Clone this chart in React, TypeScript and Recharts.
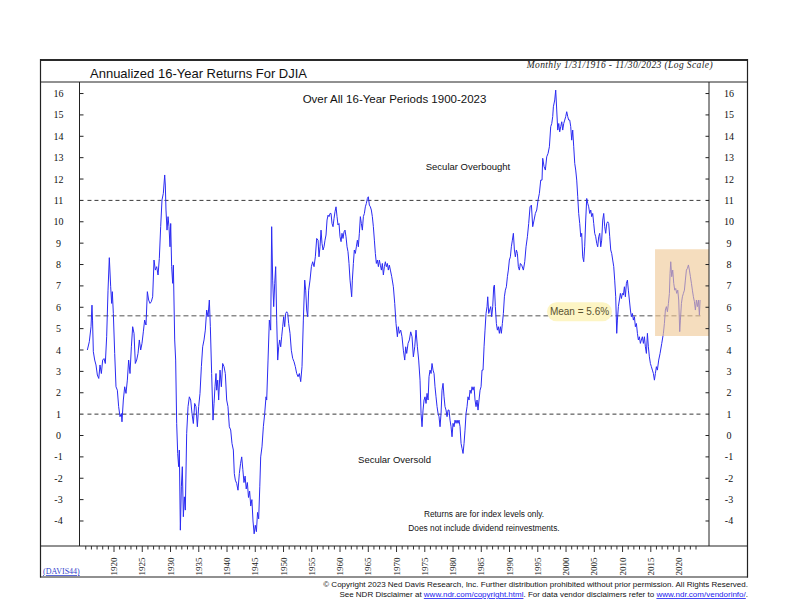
import React from 'react';
import { LineChart, Line, XAxis, YAxis, ReferenceLine, ReferenceArea } from 'recharts';

// ---------- data ----------
// [year, annualized 16-year return %]
const returns1915to1945: [number, number][] = [
  [1915.28,4.0],[1915.63,4.39],[1915.93,5.09],[1916.1,6.1],[1916.2,5.4],[1916.34,3.92],[1916.58,3.53],[1916.81,3.3],[1917.05,2.83],[1917.3,2.67],[1917.52,3.3],[1917.76,2.9],[1917.99,3.53],[1918.23,3.6],[1918.46,3.37],[1918.7,4.62],[1918.94,6.8],[1919.17,8.32],[1919.41,6.96],[1919.58,6.18],[1919.7,6.73],[1919.88,5.71],
  [1920.12,3.84],[1920.35,2.28],[1920.59,2.12],[1920.82,1.35],[1921.06,0.88],[1921.3,1.03],[1921.41,0.64],[1921.65,1.66],[1921.89,2.28],[1922.12,1.97],[1922.36,2.59],[1922.59,3.53],[1922.83,2.9],[1923.07,4.15],[1923.3,5.09],[1923.54,4.78],[1923.77,3.37],[1924.01,3.53],[1924.25,3.84],[1924.48,4.47],[1924.72,4.0],[1924.95,4.31],
  [1925.19,4.85],[1925.42,5.4],[1925.66,5.17],[1925.9,6.73],[1926.13,6.34],[1926.37,6.18],[1926.6,6.26],[1926.84,6.49],[1927.08,8.21],[1927.31,7.74],[1927.55,7.9],[1927.79,7.51],[1928.02,8.29],[1928.26,9.77],[1928.49,11.02],[1928.73,11.33],[1928.97,12.19],[1929.08,11.72],[1929.2,10.55],[1929.38,9.61],[1929.56,10.24],[1929.73,9.77],[1929.91,8.83],
  [1930.03,9.92],[1930.2,7.9],[1930.38,7.12],[1930.5,7.97],[1930.74,4.47],[1930.91,3.53],[1931.09,0.56],[1931.27,-0.84],[1931.44,-1.46],[1931.56,-0.68],[1931.74,-4.43],[1931.92,-2.4],[1932.09,-1.46],[1932.27,-3.8],[1932.45,-2.87],[1932.62,-3.49],[1932.86,0.1],[1933.1,1.35],[1933.33,1.81],[1933.57,1.66],[1933.8,1.03],[1934.04,0.56],[1934.28,1.5],[1934.51,1.35],[1934.75,0.41],[1934.98,1.35],
  [1935.22,1.97],[1935.46,3.22],[1935.69,4.15],[1935.93,4.47],[1936.16,4.93],[1936.4,5.87],[1936.64,5.56],[1936.87,6.34],[1937.05,5.09],[1937.28,2.9],[1937.52,0.72],[1937.7,1.5],[1937.87,2.28],[1938.05,2.9],[1938.17,2.12],[1938.35,2.59],[1938.52,1.66],[1938.76,3.06],[1939.0,2.28],[1939.23,3.37],[1939.47,3.22],[1939.7,2.9],[1939.94,1.66],
  [1940.17,1.35],[1940.41,0.41],[1940.65,0.26],[1940.88,-0.37],[1941.12,-0.68],[1941.29,-1.78],[1941.47,-2.09],[1941.71,-2.24],[1941.94,-2.56],[1942.18,-1.78],[1942.4,-1.3],[1942.6,-1.0],[1942.8,-1.6],[1943.0,-2.2],[1943.2,-1.9],[1943.4,-2.5],[1943.6,-2.2],[1943.8,-2.9],[1944.0,-2.6],[1944.2,-3.3],[1944.4,-3.0],[1944.6,-4.0],[1944.8,-4.6],[1945.0,-4.2],[1945.2,-4.5],[1945.4,-3.6],[1945.6,-3.9],[1945.8,-2.4],
];
const returns1946to1991: [number, number][] = [
  [1945.96,-1.0],[1946.19,-0.53],[1946.43,0.41],[1946.67,1.03],[1946.9,1.81],[1947.02,1.66],[1947.26,3.53],[1947.49,5.4],[1947.73,4.93],[1947.9,9.77],[1948.08,7.27],[1948.26,6.03],[1948.44,7.12],[1948.61,7.9],[1948.79,5.4],[1948.97,3.53],[1949.14,4.15],[1949.32,4.47],[1949.5,4.15],[1949.67,4.62],[1949.85,5.09],
  [1950.03,5.56],[1950.2,5.09],[1950.38,5.71],[1950.56,5.79],[1950.74,5.71],[1950.91,5.24],[1951.15,4.78],[1951.38,3.99],[1951.62,3.61],[1951.86,3.45],[1952.09,3.22],[1952.33,2.9],[1952.57,2.75],[1952.8,2.9],[1953.04,2.52],[1953.27,3.22],[1953.51,5.4],[1953.75,7.27],[1953.92,6.8],[1954.1,5.87],[1954.28,5.56],[1954.45,6.8],[1954.69,7.27],[1954.93,7.9],
  [1955.16,8.13],[1955.4,7.9],[1955.63,8.36],[1955.87,9.22],[1956.11,9.14],[1956.28,8.36],[1956.46,8.83],[1956.64,9.61],[1956.81,8.99],[1956.99,8.68],[1957.17,8.83],[1957.34,9.14],[1957.52,9.38],[1957.7,10.08],[1957.88,10.31],[1958.05,10.24],[1958.23,10.39],[1958.41,10.39],[1958.58,9.92],[1958.76,9.77],[1958.94,10.16],[1959.11,10.47],[1959.29,10.7],[1959.47,10.24],[1959.64,9.85],[1959.82,9.92],
  [1960.0,9.3],[1960.18,9.07],[1960.35,9.46],[1960.53,9.22],[1960.71,9.53],[1960.88,9.61],[1961.06,9.3],[1961.24,8.83],[1961.41,8.6],[1961.59,8.05],[1961.77,7.27],[1961.95,6.8],[1962.06,6.49],[1962.18,7.27],[1962.36,8.05],[1962.53,8.68],[1962.71,8.52],[1962.89,8.83],[1963.07,9.14],[1963.24,8.83],[1963.42,9.46],[1963.6,10.24],[1963.77,9.92],[1963.95,9.61],[1964.13,10.24],[1964.31,10.39],[1964.48,10.7],[1964.66,10.86],[1964.84,11.09],
  [1965.01,11.17],[1965.19,10.78],[1965.37,10.7],[1965.54,10.55],[1965.72,10.24],[1965.9,9.77],[1966.08,9.14],[1966.25,8.52],[1966.43,8.05],[1966.61,8.21],[1966.79,7.9],[1966.96,8.21],[1967.14,7.97],[1967.32,7.74],[1967.49,8.05],[1967.67,7.51],[1967.85,7.9],[1968.02,8.13],[1968.2,7.9],[1968.38,8.05],[1968.55,7.74],[1968.73,7.97],[1968.91,7.74],[1969.15,7.43],[1969.44,6.96],[1969.68,6.18],[1969.91,5.24],
  [1970.15,4.62],[1970.32,5.09],[1970.5,4.78],[1970.74,4.93],[1970.97,4.62],[1971.21,3.99],[1971.45,3.53],[1971.62,4.15],[1971.8,3.84],[1972.04,4.31],[1972.27,4.47],[1972.51,4.85],[1972.74,4.62],[1972.98,3.68],[1973.22,4.15],[1973.45,4.93],[1973.69,4.15],[1973.92,3.53],[1974.16,2.59],[1974.34,1.03],[1974.51,0.41],[1974.69,1.19],[1974.87,1.66],
  [1975.04,1.81],[1975.22,1.5],[1975.4,1.97],[1975.58,1.66],[1975.75,2.75],[1975.93,3.06],[1976.11,2.9],[1976.28,3.37],[1976.46,3.06],[1976.64,2.9],[1976.81,2.28],[1976.99,1.81],[1977.17,1.35],[1977.35,1.03],[1977.52,0.88],[1977.7,0.41],[1977.88,1.03],[1978.05,2.12],[1978.23,2.44],[1978.41,1.81],[1978.58,1.35],[1978.76,1.19],[1978.94,0.88],[1979.12,1.19],[1979.29,1.19],[1979.47,0.72],[1979.65,0.41],[1979.82,-0.06],
  [1980.0,0.57],[1980.18,0.41],[1980.35,0.72],[1980.53,0.57],[1980.71,0.72],[1980.88,0.57],[1981.06,0.72],[1981.24,0.41],[1981.42,-0.37],[1981.59,-0.6],[1981.77,-0.84],[1981.95,-0.37],[1982.12,0.25],[1982.3,1.03],[1982.48,1.35],[1982.65,1.81],[1982.83,1.66],[1983.01,2.12],[1983.19,1.97],[1983.36,2.28],[1983.54,2.12],[1983.72,2.28],[1983.89,1.66],[1984.07,1.35],[1984.25,1.66],[1984.42,1.19],[1984.6,1.66],[1984.78,2.12],[1984.96,2.28],
  [1985.13,3.06],[1985.31,3.06],[1985.49,4.15],[1985.66,4.93],[1985.84,5.71],[1986.02,6.03],[1986.14,6.49],[1986.31,5.71],[1986.49,5.87],[1986.67,6.03],[1986.84,5.56],[1987.02,6.03],[1987.2,6.96],[1987.32,7.04],[1987.49,6.03],[1987.67,5.24],[1987.85,4.93],[1988.02,5.09],[1988.2,4.78],[1988.38,5.09],[1988.55,4.78],[1988.73,5.24],[1988.91,5.71],[1989.09,6.49],[1989.26,6.8],[1989.44,6.96],[1989.62,7.43],[1989.79,7.74],[1989.97,8.21],
  [1990.15,8.36],[1990.32,8.83],[1990.5,9.14],[1990.68,9.46],[1990.86,8.68],[1991.03,8.36],[1991.21,8.68],[1991.39,8.52],[1991.56,7.9],[1991.74,7.74],[1991.92,8.05],
];
const returns1992to2023: [number, number][] = [
  [1992.15,7.97],[1992.45,7.74],[1992.69,8.13],[1992.92,8.83],[1993.16,9.3],[1993.39,9.92],[1993.63,10.7],[1993.87,10.78],[1994.1,9.77],[1994.34,10.08],[1994.57,10.39],[1994.81,10.55],[1995.05,11.02],[1995.28,11.33],[1995.52,11.95],[1995.75,11.95],[1995.87,12.97],[1996.11,12.58],[1996.34,12.42],[1996.58,13.04],[1996.82,13.2],[1997.05,13.51],[1997.29,14.45],[1997.47,14.6],[1997.64,14.92],[1997.76,15.38],[1998.0,15.7],[1998.17,16.16],[1998.35,15.23],[1998.53,14.29],[1998.71,14.6],[1998.88,14.21],[1999.06,14.45],[1999.24,14.68],[1999.41,14.29],[1999.59,14.6],[1999.77,14.76],[1999.94,14.92],
  [2000.12,15.15],[2000.3,14.92],[2000.47,14.76],[2000.65,14.76],[2000.83,14.45],[2001.0,13.82],[2001.18,14.29],[2001.36,13.51],[2001.54,12.73],[2001.71,12.42],[2001.89,11.95],[2002.07,11.17],[2002.24,10.39],[2002.42,9.92],[2002.6,9.3],[2002.77,9.46],[2002.95,8.36],[2003.13,8.13],[2003.3,8.83],[2003.48,10.08],[2003.66,11.09],[2003.84,10.86],[2004.01,10.7],[2004.19,10.39],[2004.37,10.55],[2004.54,10.24],[2004.72,10.39],[2004.9,9.92],
  [2005.07,9.46],[2005.25,9.3],[2005.43,8.99],[2005.6,8.83],[2005.78,9.3],[2005.96,9.46],[2006.14,8.83],[2006.31,9.14],[2006.49,10.08],[2006.67,10.39],[2006.84,9.77],[2007.02,9.46],[2007.2,9.92],[2007.38,10.0],[2007.55,9.92],[2007.73,9.3],[2007.91,8.68],[2008.08,8.52],[2008.26,8.21],[2008.44,7.9],[2008.61,7.27],[2008.79,6.49],[2008.97,4.78],[2009.09,5.4],[2009.26,6.03],[2009.44,6.34],[2009.62,6.65],[2009.8,6.41],[2009.97,6.65],
  [2010.15,6.57],[2010.33,6.96],[2010.5,6.49],[2010.68,7.12],[2010.86,7.27],[2011.03,6.8],[2011.21,6.34],[2011.39,5.87],[2011.56,5.56],[2011.74,5.71],[2011.92,5.4],[2012.1,5.56],[2012.27,5.09],[2012.45,5.24],[2012.63,4.78],[2012.8,4.47],[2012.98,4.62],[2013.16,4.31],[2013.33,4.47],[2013.51,4.62],[2013.69,4.31],[2013.87,4.62],[2014.04,4.15],[2014.22,3.84],[2014.4,4.78],[2014.57,4.15],[2014.75,3.68],[2014.93,3.37],
  [2015.1,3.22],[2015.28,3.06],[2015.46,2.9],[2015.64,2.59],[2015.81,2.9],[2015.99,3.22],[2016.16,3.06],[2016.4,3.53],[2016.64,3.84],[2016.94,4.31],[2017.23,4.78],[2017.41,5.25],[2017.58,5.87],[2017.76,6.03],[2017.94,5.79],[2018.12,6.18],[2018.29,6.65],[2018.41,7.59],[2018.53,8.13],[2018.7,7.43],[2018.88,7.74],[2019.06,7.12],[2019.24,6.8],[2019.41,6.88],[2019.59,6.65],[2019.77,6.8],[2019.94,6.34],
  [2020.12,4.86],[2020.24,5.4],[2020.42,6.18],[2020.59,6.49],[2020.77,6.65],[2020.95,6.8],[2021.12,7.27],[2021.3,7.74],[2021.48,7.82],[2021.66,7.98],[2021.83,7.74],[2022.01,7.43],[2022.19,7.12],[2022.36,6.8],[2022.54,6.49],[2022.72,6.26],[2022.89,5.87],[2023.07,6.34],[2023.25,6.03],[2023.43,6.34],[2023.6,5.63],[2023.72,6.34],
];

const yTickValues = [-4, -3, -2, -1, 0, 1, 2, 3, 4, 5, 6, 7, 8, 9, 10, 11, 12, 13, 14, 15, 16];
const yearLabels = [1920, 1925, 1930, 1935, 1940, 1945, 1950, 1955, 1960, 1965, 1970, 1975, 1980, 1985, 1990, 1995, 2000, 2005, 2010, 2015, 2020];
const firstTickYear = 1915;
const lastTickYear = 2023;
const overboughtLevel = 11;
const oversoldLevel = 1;
const meanReturn = 5.6;
const highlightBox = { x1: 2015.75, x2: 2025.3, y1: 4.65, y2: 8.71 };
const guideStart = 1915.3;
const guideEnd = 2023.8;

// ---------- layout ----------
const W = 792;
const H = 612;
const PL = 80, PR = 709, PT = 82, PB = 546;
const X_DOMAIN: [number, number] = [1913.98, 2025.3];
const Y_DOMAIN: [number, number] = [-5.17, 16.54];
const SANS = '"Liberation Sans", Arial, Helvetica, sans-serif';
const SERIF = '"Liberation Serif", "Times New Roman", serif';

const chartData = [...returns1915to1945, ...returns1946to1991, ...returns1992to2023].map(([year, v]) => ({ year, v }));
const allTickYears: number[] = [];
for (let y = firstTickYear; y <= lastTickYear; y++) allTickYears.push(y);

const LeftTick = (props: any) => {
  const { y, payload } = props;
  return (
    <g>
      <line x1={PL} x2={PL + 3.5} y1={y} y2={y} stroke="#222" strokeWidth={1} />
      <text x={58.5} y={y} textAnchor="middle" dominantBaseline="central" fontSize={10} fontFamily={SERIF} fill="#111">
        {payload.value}
      </text>
    </g>
  );
};

const RightTick = (props: any) => {
  const { y, payload } = props;
  return (
    <g>
      <line x1={PR - 3.5} x2={PR} y1={y} y2={y} stroke="#222" strokeWidth={1} />
      <text x={729} y={y} textAnchor="middle" dominantBaseline="central" fontSize={10} fontFamily={SERIF} fill="#111">
        {payload.value}
      </text>
    </g>
  );
};

const BottomTick = (props: any) => {
  const { x, payload } = props;
  const yr = payload.value as number;
  const major = yearLabels.includes(yr);
  return (
    <g>
      <line x1={x} x2={x} y1={PB} y2={PB + (major ? 6 : 3.5)} stroke="#333" strokeWidth={1} />
      {major && (
        <text
          transform={`translate(${x + 3.2},${575.5}) rotate(-90)`}
          textAnchor="start"
          fontSize={9}
          fontFamily={SERIF}
          fill="#222"
        >
          {yr}
        </text>
      )}
    </g>
  );
};

const MeanLabel = (props: any) => {
  const vb = props.viewBox || {};
  const ly = vb.y ?? 315;
  return (
    <g>
      <rect x={547} y={ly - 13.5} width={65} height={19} rx={9.5} ry={9.5} fill="#FDF5C4" />
      <text x={579.5} y={ly - 4} textAnchor="middle" dominantBaseline="central" fontSize={10} fontFamily={SANS} fill="#5a5230">
        Mean = 5.6%
      </text>
    </g>
  );
};

export default function App() {
  return (
    <div style={{ position: 'absolute', left: 0, top: 0, width: W, height: H, background: '#fff', overflow: 'hidden' }}>
      <div style={{ position: 'absolute', left: 0, top: 0 }}>
        <LineChart width={W} height={H} data={chartData} margin={{ top: PT, right: W - PR - 1, bottom: H - PB - 1, left: PL - 1 }}>
          <XAxis
            type="number"
            dataKey="year"
            domain={X_DOMAIN}
            ticks={allTickYears}
            interval={0}
            allowDataOverflow
            height={1}
            axisLine={false}
            tickLine={false}
            tick={<BottomTick />}
          />
          <YAxis
            yAxisId="left"
            type="number"
            domain={Y_DOMAIN}
            ticks={yTickValues}
            interval={0}
            allowDataOverflow
            width={1}
            axisLine={false}
            tickLine={false}
            tick={<LeftTick />}
          />
          <YAxis
            yAxisId="right"
            orientation="right"
            type="number"
            domain={Y_DOMAIN}
            ticks={yTickValues}
            interval={0}
            allowDataOverflow
            width={1}
            axisLine={false}
            tickLine={false}
            tick={<RightTick />}
          />
          <ReferenceLine
            yAxisId="left"
            segment={[{ x: guideStart, y: overboughtLevel }, { x: guideEnd, y: overboughtLevel }]}
            stroke="#3a3a3a"
            strokeDasharray="4 3"
            strokeWidth={1}
          />
          <ReferenceLine
            yAxisId="left"
            segment={[{ x: guideStart, y: oversoldLevel }, { x: guideEnd, y: oversoldLevel }]}
            stroke="#3a3a3a"
            strokeDasharray="4 3"
            strokeWidth={1}
          />
          <ReferenceLine
            yAxisId="left"
            segment={[{ x: guideStart, y: meanReturn }, { x: guideEnd, y: meanReturn }]}
            stroke="#8c8c8c"
            strokeDasharray="5 3"
            strokeWidth={1.6}
          />
          <Line
            yAxisId="left"
            type="linear"
            dataKey="v"
            stroke="#2B2BF2"
            strokeWidth={1}
            dot={false}
            activeDot={false}
            isAnimationActive={false}
          />
          <ReferenceArea
            yAxisId="left"
            x1={highlightBox.x1}
            x2={highlightBox.x2}
            y1={highlightBox.y1}
            y2={highlightBox.y2}
            fill="#EFC896"
            fillOpacity={0.62}
            stroke="none"
            zIndex={1000}
          />
          <ReferenceLine
            yAxisId="left"
            y={meanReturn}
            stroke="none"
            label={<MeanLabel />}
            zIndex={1100}
          />
        </LineChart>
      </div>
      <svg width={W} height={H} style={{ position: 'absolute', left: 0, top: 0, pointerEvents: 'none' }}>
        {/* frame */}
        <line x1={40} x2={748} y1={60} y2={60} stroke="#2a2a2a" strokeWidth={2} />
        <line x1={40} x2={748} y1={82} y2={82} stroke="#222" strokeWidth={1} />
        <line x1={40} x2={748} y1={PB} y2={PB} stroke="#222" strokeWidth={1} />
        <line x1={40} x2={748} y1={577} y2={577} stroke="#222" strokeWidth={1.2} />
        <line x1={40.5} x2={40.5} y1={59} y2={577.5} stroke="#222" strokeWidth={1.2} />
        <line x1={747.5} x2={747.5} y1={59} y2={577.5} stroke="#222" strokeWidth={1.2} />
        <line x1={PL - 0.5} x2={PL - 0.5} y1={82} y2={PB} stroke="#222" strokeWidth={1} />
        <line x1={PR} x2={PR} y1={82} y2={PB} stroke="#222" strokeWidth={1} />

        {/* header */}
        <text x={90} y={78} fontSize={13} fontFamily={SANS} fill="#111">Annualized 16-Year Returns For DJIA</text>
        <text x={713} y={67.5} textAnchor="end" fontSize={9.5} fontStyle="italic" fontFamily={SERIF} fill="#222" letterSpacing={0.4}>
          Monthly 1/31/1916 - 11/30/2023 (Log Scale)
        </text>

        {/* plot annotations */}
        <text x={394.5} y={103} textAnchor="middle" fontSize={11.5} fontFamily={SANS} fill="#111">Over All 16-Year Periods 1900-2023</text>
        <text x={468} y={170} textAnchor="middle" fontSize={9.5} fontFamily={SANS} fill="#111">Secular Overbought</text>
        <text x={394.5} y={463} textAnchor="middle" fontSize={9.5} fontFamily={SANS} fill="#111">Secular Oversold</text>
        <text x={484} y={517} textAnchor="middle" fontSize={8.3} fontFamily={SANS} fill="#111">Returns are for index levels only.</text>
        <text x={484} y={531} textAnchor="middle" fontSize={8.3} fontFamily={SANS} fill="#111">Does not include dividend reinvestments.</text>

        {/* source tag */}
        <text x={43} y={574} fontSize={8} fontFamily={SERIF} fill="#3344cc" textDecoration="underline">(DAVIS44)</text>

        {/* footer */}
        <text x={748} y={587} textAnchor="end" fontSize={8} fontFamily={SANS} fill="#111">
          © Copyright 2023 Ned Davis Research, Inc.  Further distribution prohibited without prior permission.  All Rights Reserved.
        </text>
        <text x={748} y={597} textAnchor="end" fontSize={8} fontFamily={SANS} fill="#111">
          <tspan>See NDR Disclaimer at </tspan>
          <tspan fill="#1a1aee" textDecoration="underline">www.ndr.com/copyright.html</tspan>
          <tspan>. For data vendor disclaimers refer to </tspan>
          <tspan fill="#1a1aee" textDecoration="underline">www.ndr.com/vendorinfo/</tspan>
          <tspan>.</tspan>
        </text>
      </svg>
    </div>
  );
}
